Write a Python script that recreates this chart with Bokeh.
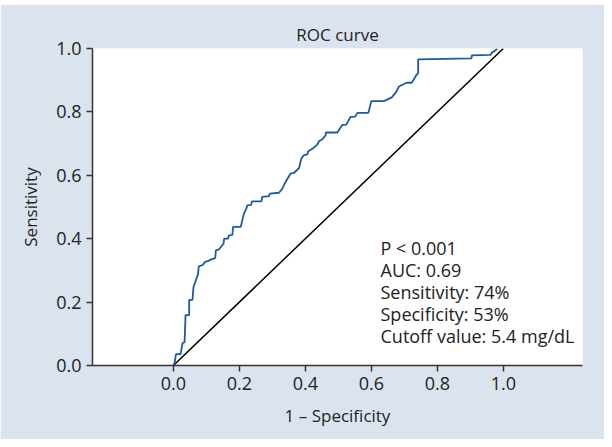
from bokeh.plotting import figure
from bokeh.models import FixedTicker, Range1d, Label, Spacer
from bokeh.layouts import column
from bokeh.embed import file_html
from bokeh.resources import INLINE

# ROC curve (1 - specificity, sensitivity)
fpr = [0.0, 0.004, 0.008, 0.022, 0.028, 0.034, 0.037, 0.048, 0.048, 0.058,
       0.061, 0.075, 0.077, 0.089, 0.095, 0.108, 0.113, 0.127, 0.129, 0.138,
       0.152, 0.154, 0.166, 0.168, 0.179, 0.181, 0.204, 0.214, 0.222, 0.224,
       0.236, 0.238, 0.267, 0.269, 0.290, 0.292, 0.320, 0.330, 0.340, 0.355,
       0.366, 0.381, 0.388, 0.396, 0.406, 0.409, 0.426, 0.436, 0.442, 0.452,
       0.462, 0.462, 0.497, 0.512, 0.524, 0.537, 0.551, 0.558, 0.591, 0.600,
       0.638, 0.662, 0.674, 0.684, 0.699, 0.707, 0.722, 0.729, 0.737, 0.742,
       0.742, 0.904, 0.904, 0.962, 0.965, 0.975, 0.982]
tpr = [0.0, 0.009, 0.036, 0.036, 0.071, 0.073, 0.159, 0.159, 0.207, 0.207,
       0.247, 0.289, 0.313, 0.317, 0.326, 0.331, 0.334, 0.339, 0.363, 0.366,
       0.384, 0.400, 0.400, 0.410, 0.412, 0.437, 0.437, 0.479, 0.497, 0.505,
       0.507, 0.518, 0.518, 0.532, 0.534, 0.542, 0.545, 0.557, 0.579, 0.605,
       0.608, 0.623, 0.653, 0.664, 0.666, 0.676, 0.687, 0.697, 0.708, 0.714,
       0.727, 0.735, 0.735, 0.759, 0.760, 0.784, 0.785, 0.797, 0.797, 0.834,
       0.834, 0.846, 0.861, 0.880, 0.888, 0.892, 0.892, 0.903, 0.917, 0.922,
       0.966, 0.969, 0.978, 0.980, 0.987, 0.993, 1.0]

ref_x = [0.0, 1.0]
ref_y = [0.0, 1.0]

x_ticks = [0.0, 0.2, 0.4, 0.6, 0.8, 1.0]
y_ticks = [0.0, 0.2, 0.4, 0.6, 0.8, 1.0]

stats_lines = ["P < 0.001", "AUC: 0.69", "Sensitivity: 74%",
               "Specificity: 53%", "Cutoff value: 5.4 mg/dL"]

FONT = "Open Sans"
BG = "#dbe4ee"
AX = "#333333"
TXT = "#222222"

p = figure(width=604, height=435, output_backend="svg", toolbar_location=None,
           x_range=Range1d(-0.245, 1.24), y_range=Range1d(0.0, 1.0),
           min_border_left=92, min_border_right=22, min_border_top=44,
           min_border_bottom=74, title="ROC curve")
p.border_fill_color = BG
p.background_fill_color = "white"
p.outline_line_color = None
p.grid.visible = False

p.title.align = "center"
p.title.text_font = FONT
p.title.text_font_size = "17px"
p.title.text_font_style = "normal"
p.title.text_color = TXT
p.title.standoff = 6

for ax in (p.xaxis[0], p.yaxis[0]):
    ax.axis_line_color = AX
    ax.axis_line_width = 1.5
    ax.major_tick_line_color = AX
    ax.major_tick_line_width = 1.5
    ax.major_tick_out = 6
    ax.major_tick_in = 0
    ax.minor_tick_line_color = None
    ax.major_label_text_font = FONT
    ax.major_label_text_font_size = "18px"
    ax.major_label_text_color = TXT
    ax.axis_label_text_font = FONT
    ax.axis_label_text_font_size = "17px"
    ax.axis_label_text_font_style = "normal"
    ax.axis_label_text_color = TXT
    ax.major_label_standoff = 5

p.xaxis.axis_label_standoff = 11
p.yaxis.axis_label_standoff = 11
p.xaxis.ticker = FixedTicker(ticks=x_ticks)
p.yaxis.ticker = FixedTicker(ticks=y_ticks)
p.xaxis.axis_label = "1 \u2013 Specificity"
p.yaxis.axis_label = "Sensitivity"
p.xaxis.major_label_overrides = {t: f"{t:.1f}" for t in x_ticks}
p.yaxis.major_label_overrides = {t: f"{t:.1f}" for t in y_ticks}

p.line(ref_x, ref_y, line_color="black", line_width=1.5)
p.line(fpr, tpr, line_color="#1f5a9c", line_width=1.8)

for i, t in enumerate(stats_lines):
    p.add_layout(Label(x=288, y=118 - i * 22, x_units="screen", y_units="screen",
                       text=t, text_font=FONT, text_font_size="18px",
                       text_color=TXT, text_baseline="middle"))

layout = column(Spacer(height=4, width=604), p)
layout.spacing = 0
open("out.html", "w").write(file_html(layout, INLINE))
